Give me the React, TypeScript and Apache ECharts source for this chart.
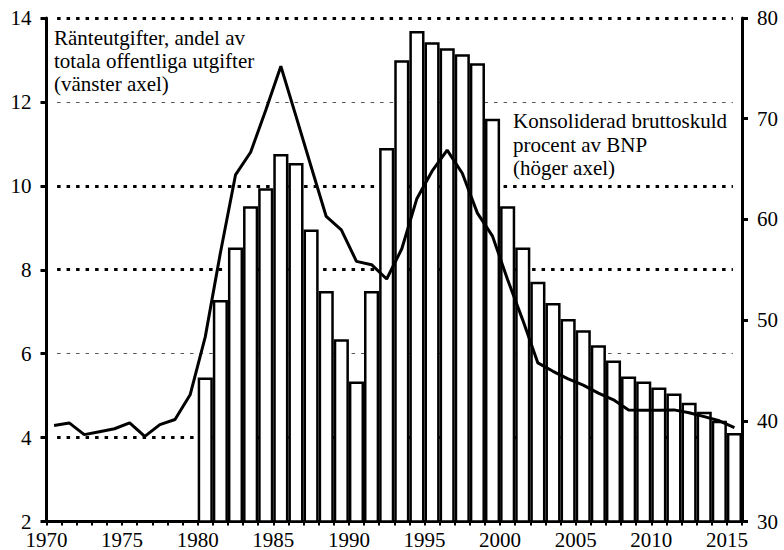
import React, { useEffect, useRef } from 'react';
import * as echarts from 'echarts';

// Years for the interest-expenditure line (vänster axel)
const LINE_YEARS = [
  1970, 1971, 1972, 1973, 1974, 1975, 1976, 1977, 1978, 1979,
  1980, 1981, 1982, 1983, 1984, 1985, 1986, 1987, 1988, 1989,
  1990, 1991, 1992, 1993, 1994, 1995, 1996, 1997, 1998, 1999,
  2000, 2001, 2002, 2003, 2004, 2005, 2006, 2007, 2008, 2009,
  2010, 2011, 2012, 2013, 2014, 2015,
];
// Ränteutgifter, andel av totala offentliga utgifter (%)
const INTEREST_SHARE = [
  4.29, 4.35, 4.07, 4.14, 4.21, 4.35, 4.03, 4.31, 4.43, 5.02,
  6.4, 8.4, 10.26, 10.8, 11.8, 12.85, 11.66, 10.46, 9.27, 8.95,
  8.2, 8.12, 7.78, 8.5, 9.7, 10.35, 10.85, 10.3, 9.35, 8.8,
  7.76, 6.8, 5.78, 5.58, 5.4, 5.25, 5.06, 4.9, 4.66, 4.65,
  4.65, 4.66, 4.59, 4.5, 4.4, 4.24,
];

// Years for the gross debt bars (höger axel)
const DEBT_YEARS = [
  1980, 1981, 1982, 1983, 1984, 1985, 1986, 1987, 1988, 1989,
  1990, 1991, 1992, 1993, 1994, 1995, 1996, 1997, 1998, 1999,
  2000, 2001, 2002, 2003, 2004, 2005, 2006, 2007, 2008, 2009,
  2010, 2011, 2012, 2013, 2014, 2015,
];
// Konsoliderad bruttoskuld, procent av BNP
const GROSS_DEBT = [
  44.3, 52.0, 57.2, 61.3, 63.1, 66.5, 65.6, 59.0, 52.9, 48.1,
  43.9, 52.9, 67.1, 75.8, 78.7, 77.6, 77.0, 76.4, 75.5, 70.0,
  61.3, 57.2, 53.8, 51.7, 50.1, 49.0, 47.5, 46.0, 44.4, 43.9,
  43.3, 42.7, 41.8, 40.9, 40.0, 38.8,
];

const X_MIN = 1970;
const X_MAX = 2016;
const LEFT_MIN = 2;
const LEFT_MAX = 14;
const LEFT_STEP = 2;
const RIGHT_MIN = 30;
const RIGHT_MAX = 80;
const RIGHT_STEP = 10;

// gridlines drawn at left-axis values
const GRID_BOLD = [4, 8, 10, 14];
const GRID_THIN = [6, 12];

const LABEL_LEFT = 'Ränteutgifter, andel av\ntotala offentliga utgifter\n(vänster axel)';
const LABEL_RIGHT = 'Konsoliderad bruttoskuld\nprocent av BNP\n(höger axel)';

const FONT = 'Liberation Serif';
const W = 784;
const H = 550;
const GRID_LEFT = 46.5;
const GRID_RIGHT = 42;

export default function App() {
  const ref = useRef<HTMLDivElement>(null);

  useEffect(() => {
    document.body.style.margin = '0';
    if (!ref.current) return;
    const chart = echarts.init(ref.current, null, { renderer: 'svg' });

    const boldStyle = { color: '#000', width: 3, type: [3.5, 6] as number[] };
    const thinStyle = { color: '#555', width: 1.2, type: [3.5, 6] as number[] };
    const gridStart = X_MIN + 0.7;
    const gridEnd = X_MAX - 0.6;
    const markData: any[] = [];
    GRID_BOLD.forEach((v) => {
      markData.push([
        { coord: [gridStart, v], lineStyle: boldStyle },
        { coord: [gridEnd, v], lineStyle: boldStyle },
      ]);
    });
    GRID_THIN.forEach((v) => {
      markData.push([
        { coord: [gridStart, v], lineStyle: thinStyle },
        { coord: [gridEnd, v], lineStyle: thinStyle },
      ]);
    });

    const axisLabelBase = { fontFamily: FONT, fontSize: 21, color: '#000' };
    const bandPx = (W - GRID_LEFT - GRID_RIGHT) / (X_MAX - X_MIN);

    chart.setOption({
      animation: false,
      grid: { left: GRID_LEFT, right: GRID_RIGHT, top: 18, bottom: 28, containLabel: false },
      xAxis: {
        type: 'value',
        min: X_MIN,
        max: X_MAX,
        interval: 1,
        axisLine: { show: true, onZero: false, lineStyle: { color: '#000', width: 3 } },
        axisTick: { show: true, length: 4, lineStyle: { color: '#000', width: 2 } },
        axisLabel: {
          ...axisLabelBase,
          lineHeight: 18,
          margin: 9,
          formatter: (v: number) => (v % 5 === 0 && v < X_MAX ? String(v) : ''),
        },
        splitLine: { show: false },
      },
      yAxis: [
        {
          type: 'value',
          position: 'left',
          min: LEFT_MIN,
          max: LEFT_MAX,
          interval: LEFT_STEP,
          axisLine: { show: true, lineStyle: { color: '#000', width: 3 } },
          axisTick: { show: true, length: 6, lineStyle: { color: '#000', width: 3 } },
          axisLabel: { ...axisLabelBase, lineHeight: 15, margin: 15 },
          splitLine: { show: false },
        },
        {
          type: 'value',
          position: 'right',
          min: RIGHT_MIN,
          max: RIGHT_MAX,
          interval: RIGHT_STEP,
          axisLine: { show: true, lineStyle: { color: '#000', width: 3 } },
          axisTick: { show: true, length: 6, lineStyle: { color: '#000', width: 3 } },
          axisLabel: { ...axisLabelBase, lineHeight: 15, margin: 15 },
          splitLine: { show: false },
        },
      ],
      series: [
        {
          type: 'bar',
          name: 'Konsoliderad bruttoskuld',
          yAxisIndex: 1,
          data: DEBT_YEARS.map((y, i) => [y + 0.5, GROSS_DEBT[i]]),
          barWidth: bandPx,
          itemStyle: { color: '#fff', borderColor: '#000', borderWidth: 2.5 },
          silent: true,
          z: 2,
        },
        {
          type: 'line',
          name: 'Ränteutgifter',
          yAxisIndex: 0,
          data: LINE_YEARS.map((y, i) => [y + 0.5, INTEREST_SHARE[i]]),
          symbol: 'none',
          lineStyle: { color: '#000', width: 3 },
          silent: true,
          z: 3,
          markLine: {
            silent: true,
            z: 1,
            symbol: ['none', 'none'],
            label: { show: false },
            emphasis: { disabled: true },
            data: markData,
          },
        },
      ],
      graphic: [
        {
          type: 'text',
          x: 54,
          y: 26,
          silent: true,
          style: {
            text: LABEL_LEFT,
            fontFamily: FONT,
            fontSize: 21,
            lineHeight: 23.3,
            fill: '#000',
            verticalAlign: 'top',
          },
        },
        {
          type: 'text',
          x: 513,
          y: 109.6,
          silent: true,
          style: {
            text: LABEL_RIGHT,
            fontFamily: FONT,
            fontSize: 21,
            lineHeight: 23.3,
            fill: '#000',
            verticalAlign: 'top',
          },
        },
      ],
    });

    return () => chart.dispose();
  }, []);

  return <div ref={ref} style={{ width: W, height: H }} />;
}
